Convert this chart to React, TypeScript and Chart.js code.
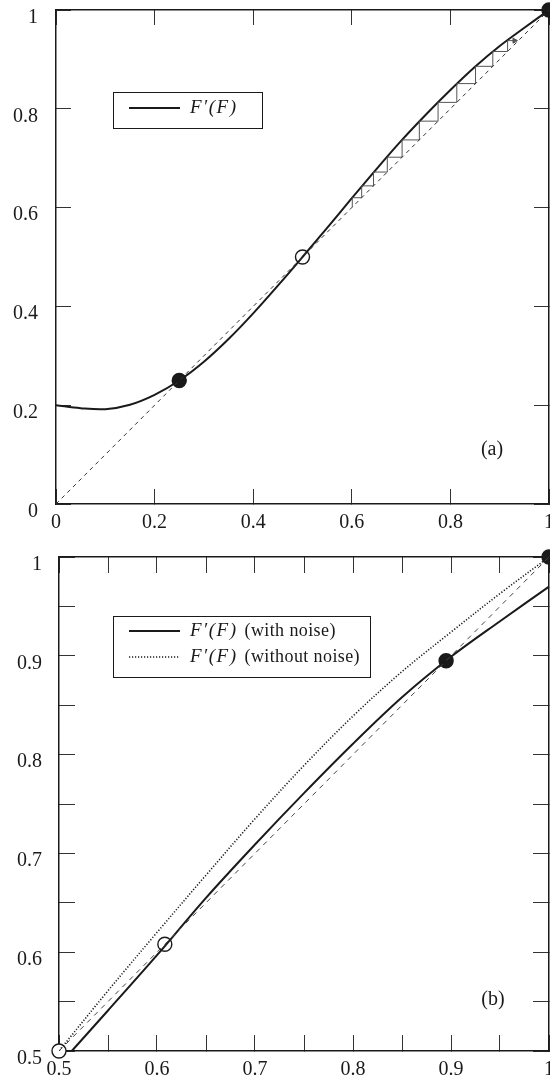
import React, { useEffect, useRef } from 'react';
import { Chart, registerables } from 'chart.js';

Chart.register(...registerables);

// ---------- Panel (a) data ----------
const aF = [0, 0.05, 0.1, 0.15, 0.2, 0.25, 0.3, 0.35, 0.4, 0.45, 0.5, 0.55, 0.6, 0.65, 0.7, 0.75, 0.8, 0.85, 0.9, 0.95, 1];
const aCurve = [0.2, 0.194, 0.192, 0.201, 0.221, 0.25, 0.288, 0.334, 0.386, 0.442, 0.5, 0.559, 0.619, 0.678, 0.735, 0.788, 0.838, 0.885, 0.927, 0.964, 1.0];
const aDiagonal = [0, 1];
const aCobweb = [0.601, 0.62, 0.644, 0.672, 0.702, 0.737, 0.775, 0.813, 0.851, 0.886, 0.916, 0.938];
const aArrowTip = 0.93;
const aFilledFixed = [0.25, 1];
const aOpenFixed = [0.5];
const aTicks = [0, 0.2, 0.4, 0.6, 0.8, 1];
const aTickLabels = ['0', '0.2', '0.4', '0.6', '0.8', '1'];
const aLegendMath = ['F\u2032(F)'];
const aLegendNote = [''];
const aPanelLabel = '(a)';

// ---------- Panel (b) data ----------
const bNoiseF = [0.513, 0.55, 0.6, 0.65, 0.7, 0.75, 0.8, 0.85, 0.9, 0.95, 1];
const bNoiseVal = [0.5, 0.541, 0.597, 0.655, 0.709, 0.761, 0.811, 0.858, 0.899, 0.935, 0.97];
const bCleanF = [0.5, 0.55, 0.6, 0.65, 0.7, 0.75, 0.8, 0.85, 0.9, 0.95, 1];
const bCleanVal = [0.5, 0.561, 0.62, 0.678, 0.735, 0.789, 0.839, 0.884, 0.924, 0.963, 1.0];
const bDiagonal = [0.5, 1];
const bOpenFixed = [0.5, 0.608];
const bFilledFixed = [0.895, 1];
const bTicks = [0.5, 0.55, 0.6, 0.65, 0.7, 0.75, 0.8, 0.85, 0.9, 0.95, 1];
const bTickLabels = ['0.5', '', '0.6', '', '0.7', '', '0.8', '', '0.9', '', '1'];
const bLegendMath = ['F\u2032(F)', 'F\u2032(F)'];
const bLegendNote = ['(with noise)', '(without noise)'];
const bPanelLabel = '(b)';

const SERIF = '"Liberation Serif", "DejaVu Serif", serif';
const INK = '#1a1a1a';

function pts(xs: number[], ys: number[]) {
  return xs.map((x, i) => ({ x, y: ys[i] }));
}

function cobwebPath(xs: number[], tip: number) {
  const out: { x: number; y: number }[] = [{ x: xs[0], y: xs[0] }];
  for (let i = 0; i < xs.length - 1; i++) {
    out.push({ x: xs[i], y: xs[i + 1] });
    if (i < xs.length - 2) out.push({ x: xs[i + 1], y: xs[i + 1] });
    else out.push({ x: tip, y: xs[i + 1] });
  }
  return out;
}

type Frame = {
  min: number;
  max: number;
  ticks: number[];
  labels: string[];
  tickLen: number;
  yAxisWidth: number;
  xAxisHeight: number;
  topPad: number;
  rightPad: number;
  xLabelPad: number;
  yLabelPad: number;
};

function buildScales(f: Frame) {
  const setTicks = (s: any) => {
    s.ticks = f.ticks.map((v) => ({ value: v }));
  };
  const label = (v: any) => {
    const i = f.ticks.findIndex((t) => Math.abs(t - Number(v)) < 1e-9);
    return i >= 0 ? f.labels[i] : '';
  };
  const grid = {
    drawOnChartArea: false,
    drawTicks: true,
    tickLength: -f.tickLen,
    tickWidth: 1,
    tickColor: '#333',
  };
  const border = { display: true, color: INK, width: 1.5 };
  const font = { family: SERIF, size: 20 };
  return {
    x: {
      type: 'linear',
      position: 'bottom',
      min: f.min,
      max: f.max,
      afterBuildTicks: setTicks,
      afterFit: (s: any) => {
        s.height = f.xAxisHeight;
        s.paddingLeft = 0;
        s.paddingRight = 0;
      },
      grid,
      border,
      ticks: { callback: label, padding: f.xLabelPad, font, color: INK, maxRotation: 0, autoSkip: false },
    },
    x2: {
      type: 'linear',
      position: 'top',
      min: f.min,
      max: f.max,
      afterBuildTicks: setTicks,
      afterFit: (s: any) => {
        s.height = 0;
        s.paddingLeft = 0;
        s.paddingRight = 0;
      },
      grid,
      border,
      ticks: { display: false },
    },
    y: {
      type: 'linear',
      position: 'left',
      min: f.min,
      max: f.max,
      afterBuildTicks: setTicks,
      afterFit: (s: any) => {
        s.width = f.yAxisWidth;
        s.paddingTop = 0;
        s.paddingBottom = 0;
      },
      grid,
      border,
      ticks: { callback: label, padding: f.yLabelPad, font, color: INK, labelOffset: 7.5, autoSkip: false },
    },
    y2: {
      type: 'linear',
      position: 'right',
      min: f.min,
      max: f.max,
      afterBuildTicks: setTicks,
      afterFit: (s: any) => {
        s.width = 0;
        s.paddingTop = 0;
        s.paddingBottom = 0;
      },
      grid,
      border,
      ticks: { display: false },
    },
  };
}

type LegendCfg = {
  box: [number, number, number, number];
  lineX: [number, number];
  textX: number;
  rows: number[];
  styles: { dash: number[]; width: number }[];
  math: string[];
  notes: string[];
  panel: string;
  panelXY: [number, number];
};

function legendPlugin(c: LegendCfg) {
  return {
    id: 'boxLegend',
    afterDraw(chart: any) {
      const ctx = chart.ctx as any;
      ctx.save();
      ctx.strokeStyle = INK;
      ctx.lineWidth = 1;
      const [x0, y0, x1, y1] = c.box;
      ctx.fillStyle = '#fff';
      ctx.fillRect(x0, y0, x1 - x0, y1 - y0);
      ctx.strokeRect(x0 + 0.5, y0 + 0.5, x1 - x0, y1 - y0);
      c.rows.forEach((ry, i) => {
        const st = c.styles[i];
        ctx.setLineDash(st.dash);
        ctx.lineWidth = st.width;
        ctx.strokeStyle = INK;
        ctx.beginPath();
        ctx.moveTo(c.lineX[0], ry);
        ctx.lineTo(c.lineX[1], ry);
        ctx.stroke();
        ctx.setLineDash([]);
        ctx.fillStyle = INK;
        ctx.textBaseline = 'middle';
        ctx.textAlign = 'left';
        ctx.letterSpacing = '1.5px';
        ctx.font = 'italic 19px ' + SERIF;
        ctx.fillText(c.math[i], c.textX, ry);
        const w = ctx.measureText(c.math[i]).width;
        if (c.notes[i]) {
          ctx.letterSpacing = '0.4px';
          ctx.font = '18px ' + SERIF;
          ctx.fillText(c.notes[i], c.textX + w + 7, ry);
        }
        ctx.letterSpacing = '0px';
      });
      ctx.font = '20px ' + SERIF;
      ctx.textAlign = 'center';
      ctx.textBaseline = 'middle';
      ctx.fillStyle = INK;
      ctx.fillText(c.panel, c.panelXY[0], c.panelXY[1]);
      ctx.restore();
    },
  };
}

function marker(xs: number[], filled: boolean) {
  return {
    type: 'scatter',
    data: pts(xs, xs),
    showLine: false,
    pointRadius: 7,
    pointHoverRadius: 7,
    pointBorderWidth: 1.4,
    pointBackgroundColor: filled ? INK : '#fff',
    pointBorderColor: INK,
    clip: false,
  };
}

function makeA(canvas: HTMLCanvasElement) {
  const frame: Frame = {
    min: 0, max: 1, ticks: aTicks, labels: aTickLabels, tickLen: 15,
    yAxisWidth: 56, xAxisHeight: 41, topPad: 10, rightPad: 51, xLabelPad: 22, yLabelPad: 33,
  };
  const cob = cobwebPath(aCobweb, aArrowTip);
  const lastY = aCobweb[aCobweb.length - 1];
  return new Chart(canvas, {
    type: 'scatter',
    data: {
      datasets: [
        { data: pts(aDiagonal, aDiagonal), showLine: true, borderColor: '#333', borderWidth: 1, borderDash: [4, 4], pointRadius: 0 },
        { data: cob, showLine: true, borderColor: '#555', borderWidth: 1, pointRadius: 0, tension: 0 },
        { data: [{ x: aArrowTip, y: lastY }], showLine: false, pointStyle: 'triangle', pointRotation: 90, pointRadius: 3, pointBackgroundColor: '#555', pointBorderColor: '#555' },
        { data: pts(aF, aCurve), showLine: true, borderColor: INK, borderWidth: 2, pointRadius: 0, tension: 0.35 },
        marker(aOpenFixed, false),
        marker(aFilledFixed, true),
      ] as any,
    },
    options: {
      animation: false,
      responsive: false,
      maintainAspectRatio: false,
      events: [],
      layout: { padding: { top: frame.topPad, right: frame.rightPad, left: 0, bottom: 0 } },
      plugins: { legend: { display: false }, tooltip: { enabled: false } },
      scales: buildScales(frame) as any,
    },
    plugins: [
      legendPlugin({
        box: [113, 92, 262, 128],
        lineX: [129, 180],
        textX: 190,
        rows: [108],
        styles: [{ dash: [], width: 2 }],
        math: aLegendMath,
        notes: aLegendNote,
        panel: aPanelLabel,
        panelXY: [492, 450],
      }),
    ],
  });
}

function makeB(canvas: HTMLCanvasElement) {
  const frame: Frame = {
    min: 0.5, max: 1, ticks: bTicks, labels: bTickLabels, tickLen: 16,
    yAxisWidth: 59, xAxisHeight: 33, topPad: 12, rightPad: 51, xLabelPad: 23, yLabelPad: 33,
  };
  return new Chart(canvas, {
    type: 'scatter',
    data: {
      datasets: [
        { data: pts(bDiagonal, bDiagonal), showLine: true, borderColor: '#444', borderWidth: 1, borderDash: [5, 5], pointRadius: 0 },
        { data: pts(bCleanF, bCleanVal), showLine: true, borderColor: INK, borderWidth: 1.6, borderDash: [1.2, 1.8], pointRadius: 0, tension: 0.35 },
        { data: pts(bNoiseF, bNoiseVal), showLine: true, borderColor: INK, borderWidth: 2, pointRadius: 0, tension: 0.35, clip: false },
        marker(bOpenFixed, false),
        marker(bFilledFixed, true),
      ] as any,
    },
    options: {
      animation: false,
      responsive: false,
      maintainAspectRatio: false,
      events: [],
      layout: { padding: { top: frame.topPad, right: frame.rightPad, left: 0, bottom: 0 } },
      plugins: { legend: { display: false }, tooltip: { enabled: false } },
      scales: buildScales(frame) as any,
    },
    plugins: [
      legendPlugin({
        box: [113, 71, 370, 132],
        lineX: [129, 180],
        textX: 190,
        rows: [86, 112],
        styles: [{ dash: [], width: 2 }, { dash: [1.2, 1.8], width: 1.6 }],
        math: bLegendMath,
        notes: bLegendNote,
        panel: bPanelLabel,
        panelXY: [493, 455],
      }),
    ],
  });
}

export default function App() {
  const refA = useRef<HTMLCanvasElement>(null);
  const refB = useRef<HTMLCanvasElement>(null);
  useEffect(() => {
    const ca = makeA(refA.current!);
    const cb = makeB(refB.current!);
    return () => {
      ca.destroy();
      cb.destroy();
    };
  }, []);
  return (
    <div style={{ position: 'absolute', left: 0, top: 0, width: 550, height: 1084, overflow: 'hidden', background: '#fff' }}>
      <canvas ref={refA} width={600} height={545} style={{ position: 'absolute', left: 0, top: 0, width: 600, height: 545 }} />
      <canvas ref={refB} width={600} height={539} style={{ position: 'absolute', left: 0, top: 545, width: 600, height: 539 }} />
    </div>
  );
}
